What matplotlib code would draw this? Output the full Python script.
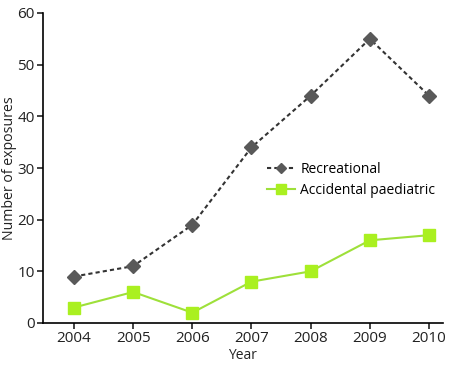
import matplotlib
matplotlib.use("Agg")
import matplotlib.pyplot as plt

years = [2004, 2005, 2006, 2007, 2008, 2009, 2010]
recreational = [9, 11, 19, 34, 44, 55, 44]
accidental = [3, 6, 2, 8, 10, 16, 17]
yticks = [0, 10, 20, 30, 40, 50, 60]

plt.rcParams['font.family'] = ['Open Sans', 'DejaVu Sans']
plt.rcParams['font.size'] = 10

fig = plt.figure(figsize=(4.5, 3.67), dpi=100)
ax = fig.add_axes([43/450, 44/367, 400/450, 310/367])

ax.plot(years, recreational, linestyle=(0, (2, 1.5)), color='#333333', lw=1.5,
        marker='D', markersize=7, markerfacecolor='#595959', markeredgecolor='#595959',
        label='Recreational')
ax.plot(years, accidental, linestyle='-', color='#9ee03a', lw=1.5,
        marker='s', markersize=9, markerfacecolor='#aaf020', markeredgecolor='#aaf020',
        label='Accidental paediatric')

ax.set_xlim(2003.476, 2010.237)
ax.set_ylim(0, 60)
ax.set_xticks(years)
ax.set_yticks(yticks)
for s in ['top', 'right']:
    ax.spines[s].set_visible(False)
for s in ['left', 'bottom']:
    ax.spines[s].set_linewidth(1.2)
ax.tick_params(direction='out', length=4, width=1.2, labelsize=11, colors='#222222')
ax.tick_params(axis='y', pad=2)
ax.tick_params(axis='x', pad=2)
ax.set_xlabel('Year', fontsize=10, color='#222222', labelpad=1)
ax.set_ylabel('Number of exposures', fontsize=10.2, color='#222222')
ax.yaxis.set_label_coords(-0.064, 0.5)

ax.legend(loc='upper left', bbox_to_anchor=(0.56, 0.52), frameon=False,
          handlelength=2.0, handletextpad=0.4, labelspacing=0.45, fontsize=10,
          borderaxespad=0, borderpad=0, markerscale=0.8)

fig.savefig('out.png', dpi=100)
